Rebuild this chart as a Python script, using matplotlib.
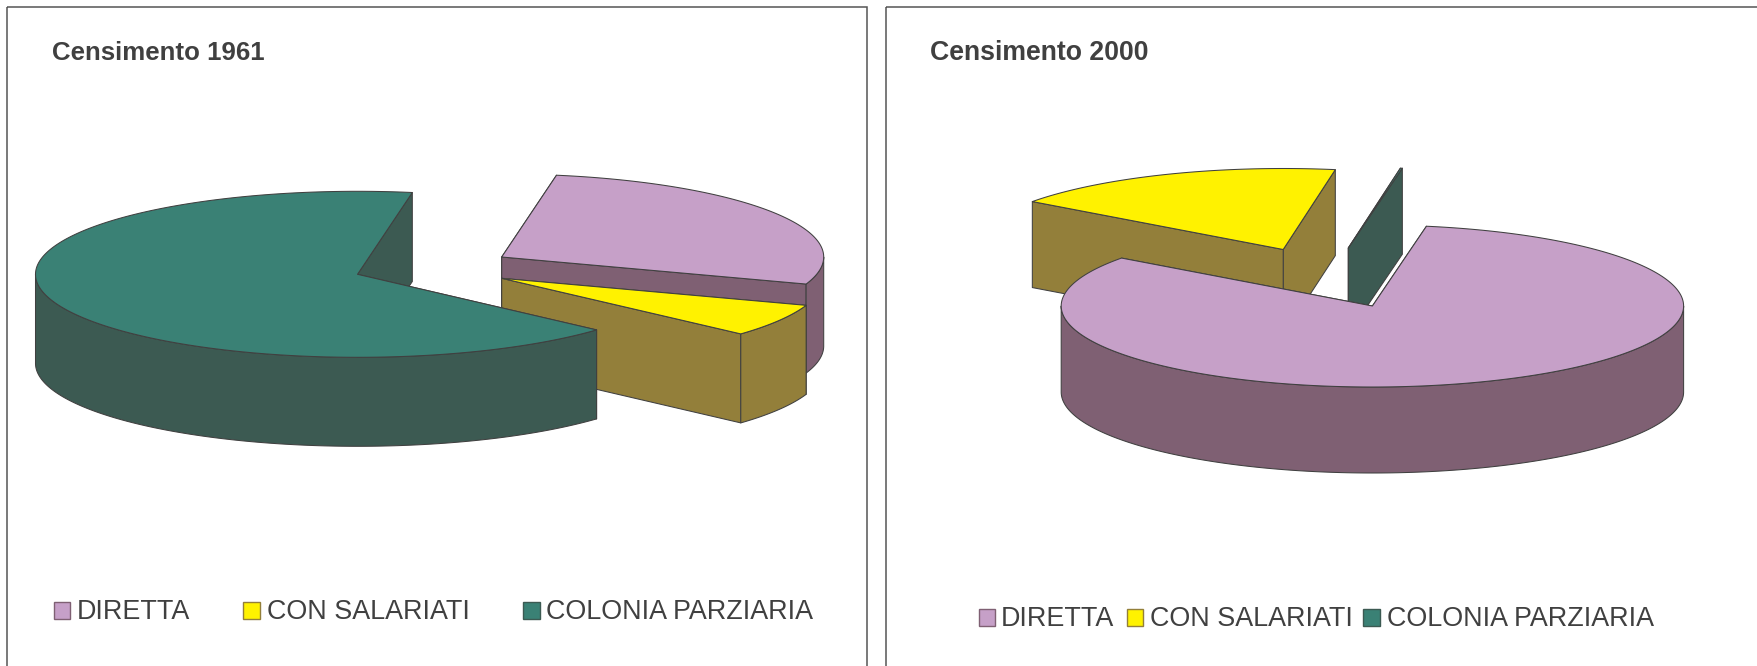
import numpy as np
import matplotlib
matplotlib.use("Agg")
import matplotlib.pyplot as plt
from matplotlib.patches import Polygon, Rectangle

categories = ["DIRETTA", "CON SALARIATI", "COLONIA PARZIARIA"]
values_1961 = [27.56, 6.40, 66.04]
values_2000 = [82.30, 17.60, 0.10]
titles = ["Censimento 1961", "Censimento 2000"]

TOP = ["#C6A0C8", "#FFF200", "#3A8175"]
SIDE = ["#7F6073", "#937F3A", "#3C5A52"]
EDGE = "#404040"
TXT = "#404040"
FONT = "Liberation Sans"
W, H = 1758, 666


def slice_angles(values, start):
    """Clockwise from start, in degrees."""
    out, a = [], start
    for v in values:
        b = a - 360.0 * v / sum(values)
        out.append((b, a))
        a = b
    return out


def rim(c, rx, ry, a0, a1):
    n = max(int(abs(a1 - a0) * 2), 2)
    t = np.radians(np.linspace(a0, a1, n))
    return np.column_stack([c[0] + rx * np.cos(t), c[1] - ry * np.sin(t)])


def draw_slice(ax, c, rx, ry, depth, a0, a1, top, side, z):
    kw = dict(edgecolor=EDGE, linewidth=0.75, joinstyle="round")
    p0 = rim(c, rx, ry, a0, a0)[0]
    p1 = rim(c, rx, ry, a1, a1)[0]
    cc = np.array(c, float)
    d = np.array([0, depth])
    # radial walls: the one further back first
    faces = sorted([p0, p1], key=lambda p: p[1])
    for p in faces:
        ax.add_patch(Polygon([cc, p, p + d, cc + d], closed=True, facecolor=side, zorder=z, **kw))
    # outer wall, only where it faces the viewer
    for k in range(-1, 2):
        lo = max(a0, 180 + 360 * k)
        hi = min(a1, 360 + 360 * k)
        if hi > lo:
            r = rim(c, rx, ry, lo, hi)
            ax.add_patch(Polygon(np.vstack([r, r[::-1] + d]), closed=True, facecolor=side, zorder=z + 0.1, **kw))
    pts = np.vstack([[cc], rim(c, rx, ry, a0, a1)])
    ax.add_patch(Polygon(pts, closed=True, facecolor=top, zorder=z + 0.2, **kw))


fig = plt.figure(figsize=(W / 100, H / 100), dpi=100, facecolor="white")
ax = fig.add_axes([0, 0, 1, 1])
ax.set_xlim(0, W)
ax.set_ylim(H, 0)
ax.axis("off")

# panel frames
ax.add_patch(Rectangle((7.5, 6.5), 859.5, 700, facecolor="none", edgecolor="#555555", linewidth=1.1, zorder=1))
ax.add_patch(Rectangle((886, 6.5), 1000, 700, facecolor="none", edgecolor="#555555", linewidth=1.1, zorder=1))

# titles
ax.text(52, 59.5, titles[0], fontsize=18.6, fontweight="bold", family=FONT, color=TXT, va="baseline")
ax.text(930.5, 60, titles[1], fontsize=19.2, fontweight="bold", family=FONT, color=TXT, va="baseline")

# 1961 pie
ang = slice_angles(values_1961, 80.2)
r1 = (322, 83, 89)
centres = [(501.7, 257), (501.7, 278.3), (357.5, 274.3)]
for i in [0, 1, 2]:
    draw_slice(ax, centres[i], *r1, ang[i][0], ang[i][1], TOP[i], SIDE[i], 2 + i)

# 2000 pie
ang = slice_angles(values_2000, 80.0)
r2 = (311.2, 81, 86)
centres = [(1372.4, 306), (1283.2, 249.5), (1348.3, 248)]
for i in [1, 2, 0]:
    z = {1: 2, 2: 3, 0: 4}[i]
    draw_slice(ax, centres[i], *r2, ang[i][0], ang[i][1], TOP[i], SIDE[i], z)

# legends
leg1 = [(54, 77), (243.5, 267.5), (523.5, 546.5)]
leg2 = [(979, 1001), (1127, 1150), (1363.4, 1387.5)]
for pos, y0 in ((leg1, 601.5), (leg2, 609)):
    for i, (px, tx) in enumerate(pos):
        ax.add_patch(Rectangle((px, y0), 16.5, 17, facecolor=TOP[i], edgecolor=SIDE[i], linewidth=1.0, zorder=6))
        ax.text(tx, y0 + 17.3, categories[i], fontsize=19.4, family=FONT, color=TXT, va="baseline", zorder=6)

fig.savefig("out.png", dpi=100, facecolor="white")
